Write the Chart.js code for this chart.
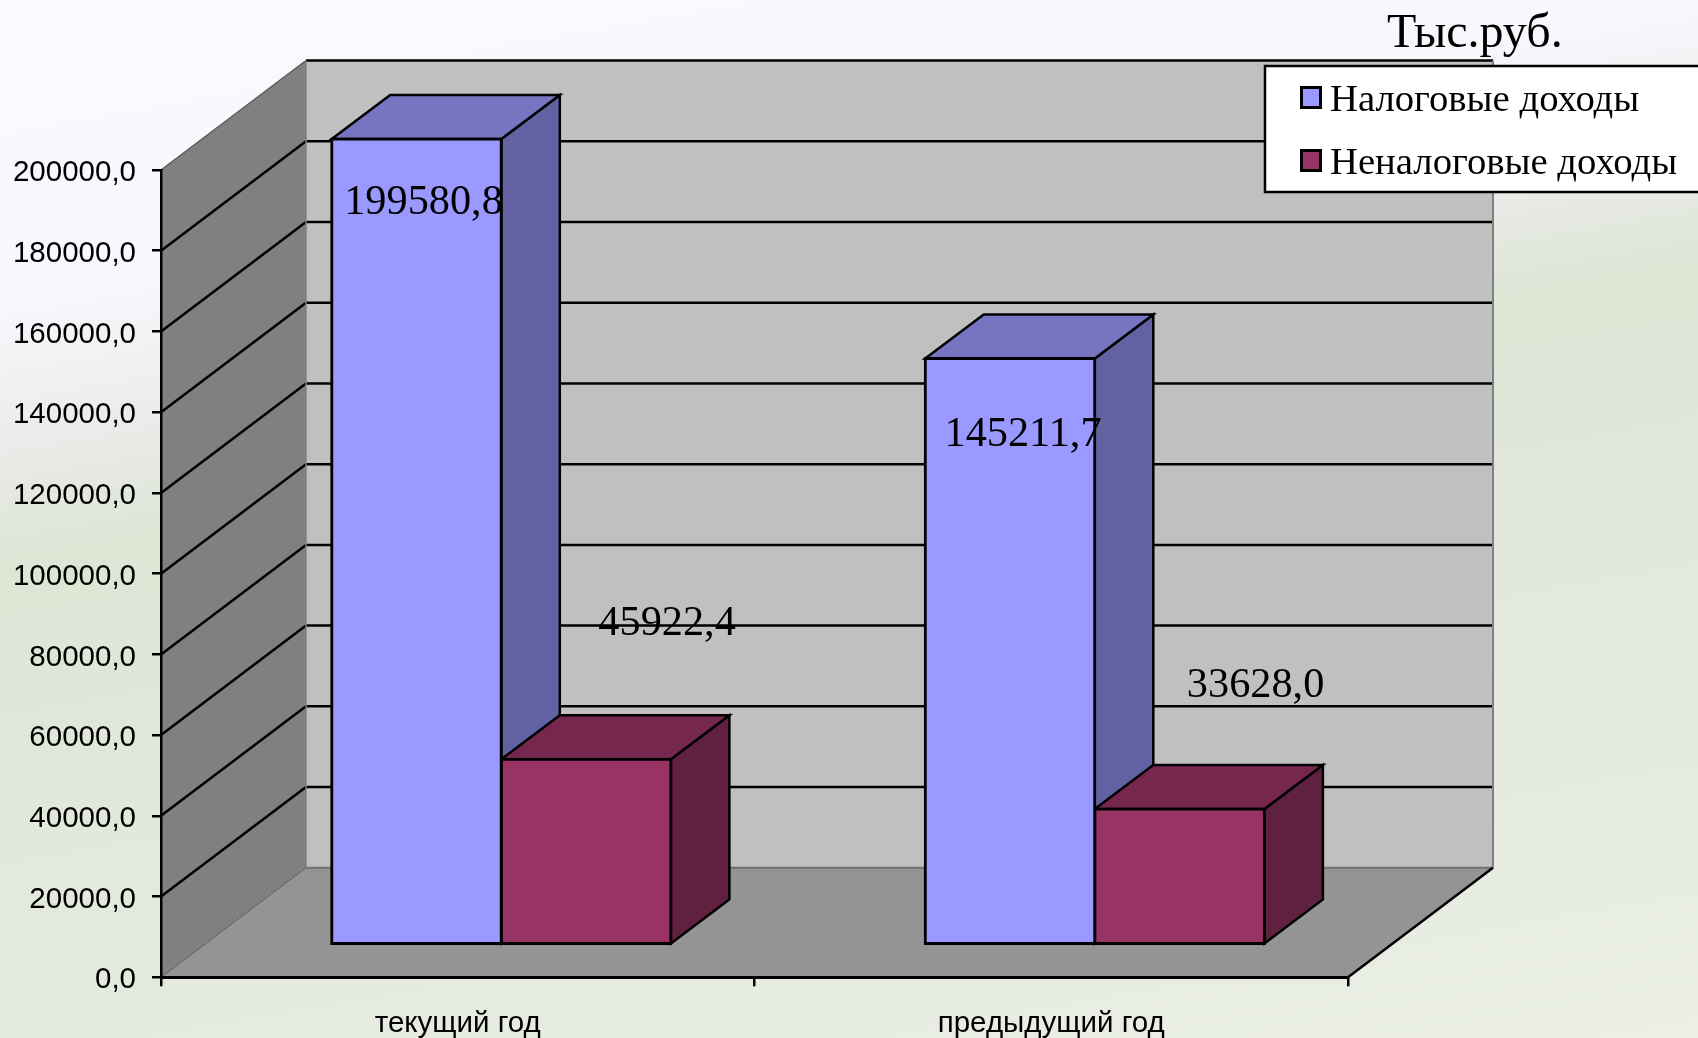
<!DOCTYPE html>
<html>
<head>
<meta charset="utf-8">
<title>Доходы</title>
<style>
  html, body { margin: 0; padding: 0; width: 1698px; height: 1038px; overflow: hidden; }
  body { background: linear-gradient(170deg, #f9f9ff 0%, #f7f7fc 23%, #e8eae6 35%, #dde5d5 42%, #e5eade 77%, #ebefe6 100%); }
  canvas { display: block; }
</style>
<script src="https://cdn.jsdelivr.net/npm/chart.js@4/dist/chart.umd.min.js"></script>
</head>
<body>
<canvas id="revenueChart" width="1698" height="1038"></canvas>
<script>
const categories = ["текущий год", "предыдущий год"];
const taxIncome = [199580.8, 145211.7];
const nonTaxIncome = [45922.4, 33628.0];
const seriesNames = ["Налоговые доходы", "Неналоговые доходы"];
const unitLabel = "Тыс.руб.";

const formatValue = v => v.toFixed(1).replace(".", ",");

// depth of the fake 3d box
const WALL = { x: 145, y: -109.5 };
const BAR_DEPTH = { x: 58.5, y: -44 };
const BAR_SHIFT = { x: 43.55, y: -32.6 };
// where the data labels sit, relative to the shifted top centre of each bar
const LABEL_OFFSETS = [
    [[7, 75], [13, 87]],
    [[81, -124], [76, -112]]
];
const SIDE_COLORS = ["#6262A3", "#60203F"];
const TOP_COLORS = ["#7575C2", "#75274E"];

function poly(ctx, pts, fill, stroke, lineWidth) {
    ctx.beginPath();
    pts.forEach((p, i) => (i ? ctx.lineTo(p[0], p[1]) : ctx.moveTo(p[0], p[1])));
    ctx.closePath();
    if (fill) { ctx.fillStyle = fill; ctx.fill(); }
    if (stroke) { ctx.strokeStyle = stroke; ctx.lineWidth = lineWidth; ctx.stroke(); }
}

function line(ctx, x1, y1, x2, y2, color, width) {
    ctx.beginPath();
    ctx.moveTo(x1, y1);
    ctx.lineTo(x2, y2);
    ctx.strokeStyle = color;
    ctx.lineWidth = width;
    ctx.stroke();
}

const box3d = {
    id: "box3d",
    // walls, floor and legend go under the scales
    beforeDraw(chart) {
        const { ctx, chartArea: a, scales: { y } } = chart;
        const dx = WALL.x, dy = WALL.y;
        const backL = a.left + dx, backR = a.right + dx, backT = a.top + dy, backB = a.bottom + dy;

        ctx.save();
        poly(ctx, [[backL, backT], [backR, backT], [backR, backB], [backL, backB]], "#C0C0C0");
        poly(ctx, [[a.left, a.top], [backL, backT], [backL, backB], [a.left, a.bottom]], "#808080");
        poly(ctx, [[a.left, a.bottom], [backL, backB], [backR, backB], [a.right, a.bottom]], "#949494");

        y.ticks.forEach(t => {
            const py = y.getPixelForValue(t.value);
            if (t.value === 0) return;
            if (t.value < y.max) line(ctx, a.left, py, backL, py + dy, "#000", 2.5);
            line(ctx, backL, py + dy, backR, py + dy, "#000", 2.5);
        });

        line(ctx, a.left, a.top, backL, backT, "#5a5a5a", 1.5);
        line(ctx, a.left, a.bottom, backL, backB, "#5a5a5a", 1);
        line(ctx, backL, backB, backR, backB, "#707070", 2);
        line(ctx, backL, backT, backL, backB, "#808080", 1.5);
        line(ctx, backR, backT, backR, backB, "#808080", 2);
        line(ctx, a.right, a.bottom, backR, backB, "#000", 2.5);

        // unit caption
        ctx.fillStyle = "#000";
        ctx.font = "48px 'Liberation Serif'";
        ctx.textBaseline = "alphabetic";
        ctx.textAlign = "left";
        ctx.fillText(unitLabel, 1387, 47);

        // legend
        ctx.fillStyle = "#fff";
        ctx.fillRect(1265, 66, 440, 126);
        ctx.strokeStyle = "#000";
        ctx.lineWidth = 2.5;
        ctx.strokeRect(1265, 66, 440, 126);
        ctx.font = "38.7px 'Liberation Serif'";
        chart.data.datasets.forEach((ds, i) => {
            const top = 87.5 + i * 63;
            ctx.fillStyle = ds.backgroundColor;
            ctx.fillRect(1301.5, top, 19, 20);
            ctx.strokeStyle = "#000";
            ctx.lineWidth = 3;
            ctx.strokeRect(1301.5, top, 19, 20);
            ctx.fillStyle = "#000";
            ctx.fillText(ds.label, 1330, top + 23);
        });
        ctx.restore();
    },
    // side and top faces of the bars, the library then paints the fronts over them
    beforeDatasetsDraw(chart) {
        const { ctx } = chart;
        ctx.save();
        ctx.translate(BAR_SHIFT.x, BAR_SHIFT.y);
        categories.forEach((c, idx) => {
            chart.data.datasets.forEach((ds, s) => {
                const bar = chart.getDatasetMeta(s).data[idx];
                const l = bar.x - bar.width / 2, r = bar.x + bar.width / 2;
                const dx = BAR_DEPTH.x, dy = BAR_DEPTH.y;
                poly(ctx, [[r, bar.y], [r + dx, bar.y + dy], [r + dx, bar.base + dy], [r, bar.base]], SIDE_COLORS[s], "#000", 2.5);
                poly(ctx, [[l, bar.y], [l + dx, bar.y + dy], [r + dx, bar.y + dy], [r, bar.y]], TOP_COLORS[s], "#000", 2.5);
            });
        });
        ctx.restore();
    },
    beforeDatasetDraw(chart) {
        chart.ctx.save();
        chart.ctx.translate(BAR_SHIFT.x, BAR_SHIFT.y);
    },
    afterDatasetDraw(chart) {
        chart.ctx.restore();
    },
    afterDatasetsDraw(chart) {
        const { ctx } = chart;
        ctx.save();
        ctx.fillStyle = "#000";
        ctx.font = "42.3px 'Liberation Serif'";
        ctx.textAlign = "center";
        ctx.textBaseline = "alphabetic";
        chart.data.datasets.forEach((ds, s) => {
            ds.data.forEach((v, idx) => {
                const bar = chart.getDatasetMeta(s).data[idx];
                const off = LABEL_OFFSETS[s][idx];
                ctx.fillText(formatValue(v), bar.x + BAR_SHIFT.x + off[0], bar.y + BAR_SHIFT.y + off[1]);
            });
        });
        ctx.restore();
    }
};

new Chart(document.getElementById("revenueChart"), {
    type: "bar",
    data: {
        labels: categories,
        datasets: [
            { label: seriesNames[0], data: taxIncome, backgroundColor: "#9999FF", borderColor: "#000", borderWidth: 3, inflateAmount: 1.5, borderSkipped: false, clip: false },
            { label: seriesNames[1], data: nonTaxIncome, backgroundColor: "#993366", borderColor: "#000", borderWidth: 3, inflateAmount: 1.5, borderSkipped: false, clip: false }
        ]
    },
    options: {
        responsive: false,
        animation: false,
        devicePixelRatio: 1,
        layout: { padding: { top: 170, right: 350, bottom: 0, left: 0 } },
        datasets: { bar: { barPercentage: 1, categoryPercentage: 0.5715 } },
        plugins: { legend: { display: false }, tooltip: { enabled: false } },
        scales: {
            x: {
                offset: true,
                afterFit: s => { s.height = 60.7; },
                border: { color: "#000", width: 3 },
                grid: { offset: true, drawOnChartArea: false, drawTicks: true, tickLength: 9, color: "#000", lineWidth: 2.5 },
                ticks: { color: "#000", font: { family: "'Liberation Sans'", size: 29.5 }, padding: 20, maxRotation: 0 }
            },
            y: {
                min: 0,
                max: 200000,
                afterFit: s => { s.width = 161; },
                border: { color: "#000", width: 2.5 },
                grid: { drawOnChartArea: false, drawTicks: true, tickLength: 9, color: "#000", lineWidth: 2.5 },
                ticks: { stepSize: 20000, color: "#000", font: { family: "'Liberation Sans'", size: 29.5 }, padding: 16, labelOffset: 3, callback: v => formatValue(v) }
            }
        }
    },
    plugins: [box3d]
});
</script>
</body>
</html>
